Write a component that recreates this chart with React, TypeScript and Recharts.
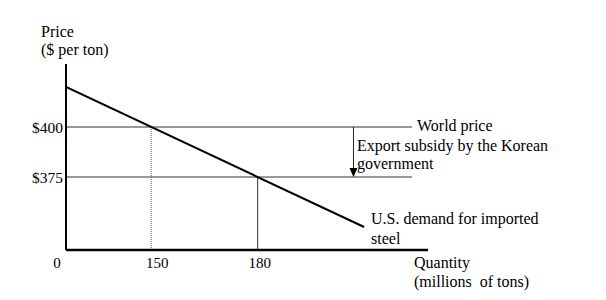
import { ComposedChart, Line, XAxis, YAxis, ReferenceLine } from "recharts";

// quantity (millions of tons) and price ($ per ton)
const ORIGIN_Q = 126;
const ORIGIN_P = 338.5;
const X_DOMAIN = [ORIGIN_Q, 228];
const Y_DOMAIN = [ORIGIN_P, 431.5];

const X_TICKS = [ORIGIN_Q, 150, 180];
const X_TICK_LABELS = ["0", "150", "180"];
const Y_TICKS = [375, 400];

const DEMAND_Q = [126, 210];
const DEMAND_P = [420, 350];

const WORLD_PRICE = 400;
const SUBSIDY_PRICE = 375;
const Q_AT_WORLD = 150;
const Q_AT_SUBSIDY = 180;
const PRICE_LINE_END_Q = 223.5;
const ARROW_Q = 207;

const FONT = "'Liberation Serif', 'Times New Roman', serif";

const demandData = DEMAND_Q.map((q, i) => ({ q, p: DEMAND_P[i] }));

// small nudges so the labels sit where the original puts them
const X_TICK_NUDGE = [-9, 6, 2];

const XTick = (props: any) => {
   const { x, y, index } = props;
   return (
      <text x={x + X_TICK_NUDGE[index]} y={y} dy="0.71em" textAnchor="middle" fontSize={15} fontFamily={FONT} fill="#000">
         {X_TICK_LABELS[index]}
      </text>
   );
};

const ArrowShape = (props: any) => {
   const { x1, y1, x2, y2 } = props;
   return (
      <g>
         <line x1={x1} y1={y1} x2={x2} y2={y2 - 8} stroke="#222" strokeWidth={1} />
         <polygon points={`${x2 - 4},${y2 - 9} ${x2 + 4},${y2 - 9} ${x2},${y2}`} fill="#000" />
      </g>
   );
};

const TEXTS = [
   { x: 41, y: 37, t: "Price" },
   { x: 41, y: 55, t: "($ per ton)" },
   { x: 417, y: 131, t: "World price" },
   { x: 357, y: 151, t: "Export subsidy by the Korean" },
   { x: 357, y: 169, t: "government" },
   { x: 371, y: 224, t: "U.S. demand for imported" },
   { x: 371, y: 244, t: "steel" },
   { x: 414, y: 268, t: "Quantity" },
   { x: 414, y: 287, t: "(millions  of tons)" },
];

export default function App() {
   return (
      <div style={{ position: "absolute", left: 0, top: 0, width: 606, height: 300, background: "#fff" }}>
         <ComposedChart width={606} height={300} data={demandData} margin={{ top: 64, right: 178, bottom: 20, left: 6 }}>
            <XAxis
               type="number"
               dataKey="q"
               domain={X_DOMAIN}
               ticks={X_TICKS}
               allowDataOverflow
               height={30}
               tickLine={false}
               tickSize={6}
               tickMargin={1}
               axisLine={{ stroke: "#000", strokeWidth: 2.5 }}
               tick={<XTick />}
            />
            <YAxis
               type="number"
               dataKey="p"
               domain={Y_DOMAIN}
               ticks={Y_TICKS}
               allowDataOverflow
               width={60}
               tickLine={false}
               tickSize={0}
               tickMargin={3}
               axisLine={{ stroke: "#000", strokeWidth: 2 }}
               tick={{ fontSize: 15.5, fontFamily: FONT, fill: "#000" }}
               tickFormatter={(v: number) => `$${v}`}
            />
            <ReferenceLine
               segment={[{ x: ORIGIN_Q, y: WORLD_PRICE }, { x: PRICE_LINE_END_Q, y: WORLD_PRICE }]}
               stroke="#333"
               strokeWidth={1}
            />
            <ReferenceLine
               segment={[{ x: ORIGIN_Q, y: SUBSIDY_PRICE }, { x: PRICE_LINE_END_Q, y: SUBSIDY_PRICE }]}
               stroke="#333"
               strokeWidth={1}
            />
            <ReferenceLine
               segment={[{ x: Q_AT_WORLD, y: ORIGIN_P }, { x: Q_AT_WORLD, y: WORLD_PRICE }]}
               stroke="#555"
               strokeWidth={1}
               strokeDasharray="1 1"
            />
            <ReferenceLine
               segment={[{ x: Q_AT_SUBSIDY, y: ORIGIN_P }, { x: Q_AT_SUBSIDY, y: SUBSIDY_PRICE }]}
               stroke="#333"
               strokeWidth={1}
            />
            <ReferenceLine
               segment={[{ x: ARROW_Q, y: WORLD_PRICE }, { x: ARROW_Q, y: SUBSIDY_PRICE }]}
               shape={<ArrowShape />}
            />
            <Line
               type="linear"
               dataKey="p"
               stroke="#000"
               strokeWidth={2}
               dot={false}
               activeDot={false}
               isAnimationActive={false}
            />
         </ComposedChart>
         <svg width={606} height={300} style={{ position: "absolute", left: 0, top: 0, pointerEvents: "none" }}>
            {TEXTS.map((d) => (
               <text key={d.t} x={d.x} y={d.y} fontSize={16} fontFamily={FONT} fill="#000" style={{ whiteSpace: "pre" }}>
                  {d.t}
               </text>
            ))}
         </svg>
      </div>
   );
}
